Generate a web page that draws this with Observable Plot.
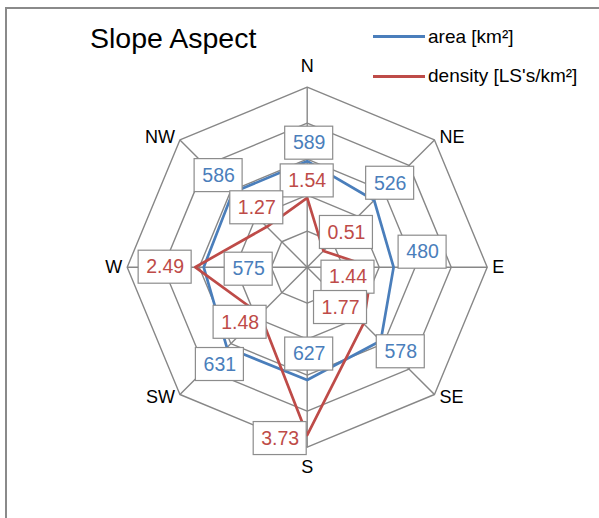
<!DOCTYPE html>
<html>
<head>
<meta charset="utf-8">
<script src="https://cdn.jsdelivr.net/npm/d3@7"></script>
<script src="https://cdn.jsdelivr.net/npm/@observablehq/plot@0.6"></script>
<style>
  html, body { margin: 0; padding: 0; background: #fff; }
  #wrap { position: relative; width: 599px; height: 518px; overflow: hidden; font-family: "Liberation Sans", Arial, sans-serif; }
  #frame { position: absolute; left: 5px; top: 7px; width: 700px; height: 700px; border-top: 2px solid #8a8a8a; border-left: 2px solid #8a8a8a; box-sizing: border-box; }
  #chart { position: absolute; left: 0; top: 0; }
  .title { position: absolute; left: 90px; top: 24px; font-size: 28.5px; line-height: 1; color: #000; white-space: nowrap; }
  .key { position: absolute; left: 373px; height: 3px; width: 52px; }
  .keytext { position: absolute; left: 428px; font-size: 19px; line-height: 1; color: #000; white-space: nowrap; }
</style>
</head>
<body>
<div id="wrap">
  <div id="frame"></div>
  <div id="chart"></div>
  <div class="title">Slope Aspect</div>
  <div class="key" style="top:35px;background:#4a7ebb"></div>
  <div class="keytext" style="top:27px">area [km²]</div>
  <div class="key" style="top:75px;background:#be4b48"></div>
  <div class="keytext" style="top:66px">density [LS's/km²]</div>
</div>
<script>
// Slope aspect classes, clockwise from north
const directions = ["N", "NE", "E", "SE", "S", "SW", "W", "NW"];
const area = [589, 526, 480, 578, 627, 631, 575, 586];          // km²
const density = [1.54, 0.51, 1.44, 1.77, 3.73, 1.48, 2.49, 1.27]; // LS's per km²

// Radial axis maxima (each series has its own scale on the same rings)
const areaMax = 1000;
const densityMax = 4;
const rings = [0.2, 0.4, 0.6, 0.8, 1];

// Label box nudges in pixels [right, down] from each vertex
const areaNudge = [[2,-18],[16,-17],[29,-15],[20,11],[2,-26],[-7,17],[45,2],[-14,-17]];
const densityNudge = [[0,-17],[23,-18.5],[-24,10],[-23,-16],[-27,3.5],[-20,8],[-30,0],[-10,-19]];

const W = 599, H = 518;
const R = 180;            // pixels per unit radius
const cx = 306.7, cy = 266.7;

const ang = i => i * Math.PI / 4;
const px = (r, i) => r * Math.sin(ang(i));
const py = (r, i) => r * Math.cos(ang(i));

const BLUE = "#4a7ebb", RED = "#be4b48", GRID = "#878787";

const areaPts = directions.map((dir, i) => ({dir, i, value: area[i], r: area[i] / areaMax, label: String(area[i]), nudge: areaNudge[i]}));
const densPts = directions.map((dir, i) => ({dir, i, value: density[i], r: density[i] / densityMax, label: density[i].toFixed(2), nudge: densityNudge[i]}));

const ringPts = rings.flatMap(ring => directions.map((d, i) => ({ring, i})));
const spokes = directions.map((d, i) => i);

// label centre in data units
const lx = d => px(d.r, d.i) + d.nudge[0] / R;
const ly = d => py(d.r, d.i) - d.nudge[1] / R;
const bw = d => (48 + (d.label.length - 3) * 5) / 2 / R;
const bh = 33 / 2 / R;

function boxes(pts, color) {
  return [
    Plot.rect(pts, {
      x1: d => lx(d) - bw(d), x2: d => lx(d) + bw(d),
      y1: d => ly(d) - bh, y2: d => ly(d) + bh,
      fill: "#fff", stroke: "#8c8c8c", strokeWidth: 1.2
    }),
    Plot.text(pts, {
      x: lx, y: ly, text: "label", fill: color, fontSize: 19.5, lineAnchor: "middle"
    })
  ];
}

// direction labels around the outer ring
const dirLabels = directions.map((d, i) => ({d, i}));
const side = o => Math.sin(ang(o.i));
const dirX = o => px(1, o.i) + Math.sign(Math.round(side(o) * 100)) * 5 / R;
const dirY = o => {
  const c = Math.cos(ang(o.i));
  if (Math.abs(side(o)) < 0.01) return py(1, o.i) + Math.sign(c) * 20.5 / R;
  return py(1, o.i) + 3.5 * c / R;
};

const chart = Plot.plot({
  width: W,
  height: H,
  margin: 0,
  style: {background: "transparent", fontFamily: "'Liberation Sans', Arial, sans-serif"},
  x: {axis: null, domain: [-cx / R, (W - cx) / R], range: [0, W]},
  y: {axis: null, domain: [-(H - cy) / R, cy / R], range: [H, 0]},
  marks: [
    Plot.line(ringPts, {x: d => px(d.ring, d.i), y: d => py(d.ring, d.i), z: "ring", curve: "linear-closed", stroke: GRID, strokeWidth: 1.4}),
    Plot.link(spokes, {x1: () => 0, y1: () => 0, x2: i => px(1, i), y2: i => py(1, i), stroke: GRID, strokeWidth: 1.4}),
    Plot.line(areaPts, {x: d => px(d.r, d.i), y: d => py(d.r, d.i), curve: "linear-closed", stroke: BLUE, strokeWidth: 2.7, strokeLinejoin: "round"}),
    Plot.line(densPts, {x: d => px(d.r, d.i), y: d => py(d.r, d.i), curve: "linear-closed", stroke: RED, strokeWidth: 2.7, strokeLinejoin: "round"}),
    ...boxes(areaPts, BLUE),
    ...boxes(densPts, RED),
    Plot.text(dirLabels.filter(o => side(o) > 0.01), {x: dirX, y: dirY, text: "d", textAnchor: "start", fontSize: 18, fill: "#000"}),
    Plot.text(dirLabels.filter(o => side(o) < -0.01), {x: dirX, y: dirY, text: "d", textAnchor: "end", fontSize: 18, fill: "#000"}),
    Plot.text(dirLabels.filter(o => Math.abs(side(o)) <= 0.01), {x: dirX, y: dirY, text: "d", textAnchor: "middle", fontSize: 18, fill: "#000"})
  ]
});

document.getElementById("chart").appendChild(chart);
</script>
</body>
</html>
